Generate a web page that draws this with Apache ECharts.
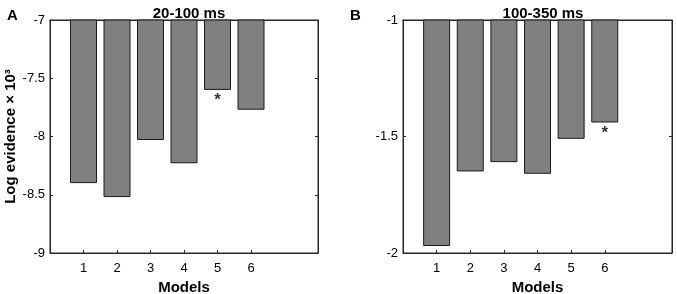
<!DOCTYPE html>
<html><head><meta charset="utf-8">
<script src="https://cdn.jsdelivr.net/npm/echarts@6/dist/echarts.min.js"></script>
<style>html,body{margin:0;padding:0;background:#fff}#c{width:677px;height:294px}</style>
</head><body><div id="c"></div>
<script>
const models = [1, 2, 3, 4, 5, 6];
const valuesA = [-8.40, -8.52, -8.03, -8.23, -7.60, -7.77];
const valuesB = [-1.97, -1.65, -1.61, -1.66, -1.51, -1.44];
const starA = 5; // best model, panel A
const starB = 6; // best model, panel B
const ticksA = [-9, -8.5, -8, -7.5, -7];
const ticksB = [-2, -1.5, -1];
const titleA = '20-100 ms';
const titleB = '100-350 ms';

const FONT = 'Arial, "Liberation Sans", sans-serif';
const AX = '#262626';
const chart = echarts.init(document.getElementById('c'), null, {renderer: 'canvas'});

function xAxisDef(gi) {
  return {
    type: 'value', gridIndex: gi, min: 0, max: 8, interval: 1, position: 'bottom',
    name: 'Models', nameLocation: 'middle', nameGap: 26,
    nameTextStyle: {fontFamily: FONT, fontWeight: 'bold', fontSize: 15, color: '#000'},
    axisLine: {show: true, onZero: false, lineStyle: {color: AX, width: 1}},
    axisTick: {show: true, inside: true, length: 3, customValues: models, lineStyle: {color: AX}},
    axisLabel: {show: true, customValues: models, fontFamily: FONT, fontSize: 13, color: '#000', margin: 9},
    splitLine: {show: false}
  };
}
function topAxisDef(gi) {
  return {
    type: 'value', gridIndex: gi, min: 0, max: 8, position: 'top',
    axisLine: {show: true, onZero: false, lineStyle: {color: AX, width: 1}},
    axisTick: {show: false}, axisLabel: {show: false}, splitLine: {show: false}
  };
}
function yAxisDef(gi, ticks, name) {
  return {
    type: 'value', gridIndex: gi, position: 'left', min: ticks[0], max: ticks[ticks.length - 1], interval: 0.5,
    name: name, nameLocation: 'middle', nameGap: 31, nameRotate: 90,
    nameTextStyle: {fontFamily: FONT, fontWeight: 'bold', fontSize: 15, color: '#000'},
    axisLine: {show: true, onZero: false, lineStyle: {color: AX, width: 1}},
    axisTick: {show: true, inside: true, length: 3, lineStyle: {color: AX}},
    axisLabel: {fontFamily: FONT, fontSize: 13, color: '#000', margin: 5},
    splitLine: {show: false}
  };
}
function yRightDef(gi, ticks) {
  return {
    type: 'value', gridIndex: gi, position: 'right', min: ticks[0], max: ticks[ticks.length - 1], interval: 0.5,
    axisLine: {show: true, onZero: false, lineStyle: {color: AX, width: 1}},
    axisTick: {show: true, inside: true, length: 3, lineStyle: {color: AX}},
    axisLabel: {show: false}, splitLine: {show: false}
  };
}
function barSeries(xi, yi, vals) {
  return {
    type: 'bar', xAxisIndex: xi, yAxisIndex: yi, barWidth: 27, clip: true,
    data: models.map((m, i) => [m, vals[i]]),
    itemStyle: {color: '#808080', borderColor: '#1a1a1a', borderWidth: 1},
    silent: true, animation: false
  };
}
function starSeries(xi, yi, vals, best) {
  return {
    type: 'scatter', xAxisIndex: xi, yAxisIndex: yi, symbolSize: 0, silent: true, animation: false,
    data: [[best, vals[models.indexOf(best)]]],
    label: {show: true, position: 'bottom', distance: 2, formatter: '*',
      fontFamily: FONT, fontWeight: 'bold', fontSize: 17, color: '#000'}
  };
}

chart.setOption({
  animation: false,
  backgroundColor: '#fff',
  title: [
    {text: titleA, left: 184, top: 1, textAlign: 'center',
      textStyle: {fontFamily: FONT, fontWeight: 'bold', fontSize: 15, color: '#000'}},
    {text: titleB, left: 538, top: 1, textAlign: 'center',
      textStyle: {fontFamily: FONT, fontWeight: 'bold', fontSize: 15, color: '#000'}},
    {text: 'A', left: 2, top: 3,
      textStyle: {fontFamily: FONT, fontWeight: 'bold', fontSize: 15, color: '#000'}},
    {text: 'B', left: 345, top: 3,
      textStyle: {fontFamily: FONT, fontWeight: 'bold', fontSize: 15, color: '#000'}}
  ],
  grid: [
    {left: 50, top: 20, width: 268, height: 233, outerBoundsMode: 'none', containLabel: false,
      show: true, borderColor: AX, borderWidth: 1, backgroundColor: 'transparent'},
    {left: 403, top: 20, width: 269, height: 233, outerBoundsMode: 'none', containLabel: false,
      show: true, borderColor: AX, borderWidth: 1, backgroundColor: 'transparent'}
  ],
  xAxis: [xAxisDef(0), xAxisDef(1), topAxisDef(0), topAxisDef(1)],
  yAxis: [yAxisDef(0, ticksA, 'Log evidence × 10³'), yAxisDef(1, ticksB, ''), yRightDef(0, ticksA), yRightDef(1, ticksB)],
  series: [
    barSeries(0, 0, valuesA), barSeries(1, 1, valuesB),
    starSeries(0, 0, valuesA, starA), starSeries(1, 1, valuesB, starB)
  ]
});
</script></body></html>
